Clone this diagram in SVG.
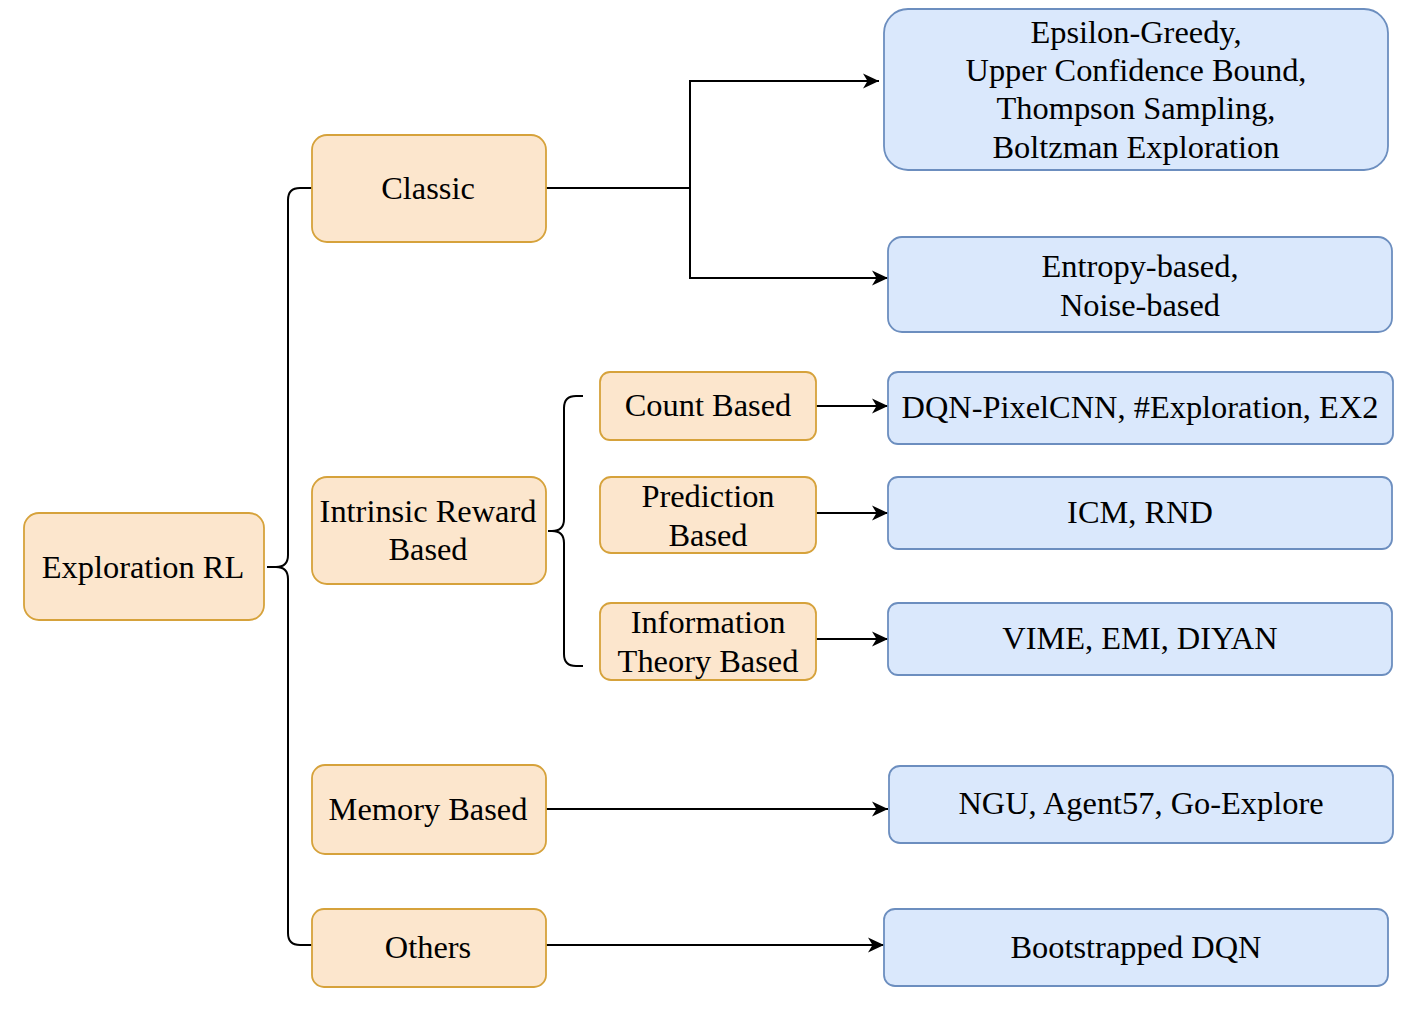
<svg xmlns="http://www.w3.org/2000/svg" width="1418" height="1022" viewBox="0 0 1418 1022">
<style>
.o{fill:#fce6cd;stroke:#d6a23b;stroke-width:1.8}
.b{fill:#dae8fc;stroke:#6c8ebf;stroke-width:1.8}
text{font-family:"Liberation Serif","Times New Roman",serif;font-size:32.4px;fill:#000;text-anchor:middle}
.c{fill:none;stroke:#000;stroke-width:2}
</style>
<defs>
<marker id="a" markerUnits="userSpaceOnUse" markerWidth="20" markerHeight="20" refX="16" refY="8" orient="auto" viewBox="0 0 20 16">
<path d="M16,8 L0,0.5 L4.5,8 L0,15.5 Z" fill="#000"/>
</marker>
</defs>
<rect width="1418" height="1022" fill="#fff"/>
<g id="connectors">
<path class="c" d="M312,188 H300 Q288,188 288,200 V555 Q288,567 276,567 H267 M276,567 Q288,567 288,579 V933 Q288,945 300,945 H312"/>
<path class="c" d="M583,396 H576 Q564,396 564,408 V519 Q564,531 552,531 H548 M552,531 Q564,531 564,543 V654 Q564,666 576,666 H583"/>
<path class="c" d="M546,188 H690"/>
<path class="c" d="M690,188 V81 H879" marker-end="url(#a)"/>
<path class="c" d="M690,188 V278 H888" marker-end="url(#a)"/>
<path class="c" d="M816,406 H888" marker-end="url(#a)"/>
<path class="c" d="M816,513 H888" marker-end="url(#a)"/>
<path class="c" d="M816,639 H888" marker-end="url(#a)"/>
<path class="c" d="M546,809 H888" marker-end="url(#a)"/>
<path class="c" d="M546,945 H884" marker-end="url(#a)"/>
</g>
<g id="n-root"><rect class="o" x="24" y="513" width="240" height="107" rx="15"/><text x="143" y="578">Exploration RL</text></g>
<g id="n-classic"><rect class="o" x="312" y="135" width="234" height="107" rx="15"/><text x="428" y="199">Classic</text></g>
<g id="n-intrinsic"><rect class="o" x="312" y="477" width="234" height="107" rx="15"/><text x="428" y="522">Intrinsic Reward</text><text x="428" y="560">Based</text></g>
<g id="n-memory"><rect class="o" x="312" y="765" width="234" height="89" rx="13"/><text x="428" y="820">Memory Based</text></g>
<g id="n-others"><rect class="o" x="312" y="909" width="234" height="78" rx="12"/><text x="428" y="958">Others</text></g>
<g id="n-count"><rect class="o" x="600" y="372" width="216" height="68" rx="10"/><text x="708" y="416">Count Based</text></g>
<g id="n-prediction"><rect class="o" x="600" y="477" width="216" height="76" rx="11"/><text x="708" y="507">Prediction</text><text x="708" y="546">Based</text></g>
<g id="n-info"><rect class="o" x="600" y="603" width="216" height="77" rx="11"/><text x="708" y="633">Information</text><text x="708" y="672">Theory Based</text></g>
<g id="n-eps"><rect class="b" x="884" y="9" width="504" height="161" rx="24"/><text x="1136" y="43">Epsilon-Greedy,</text><text x="1136" y="81">Upper Confidence Bound,</text><text x="1136" y="119">Thompson Sampling,</text><text x="1136" y="158">Boltzman Exploration</text></g>
<g id="n-entropy"><rect class="b" x="888" y="237" width="504" height="95" rx="14"/><text x="1140" y="277">Entropy-based,</text><text x="1140" y="316">Noise-based</text></g>
<g id="n-dqnpix"><rect class="b" x="888" y="372" width="505" height="72" rx="10"/><text x="1140" y="418">DQN-PixelCNN, #Exploration, EX2</text></g>
<g id="n-icm"><rect class="b" x="888" y="477" width="504" height="72" rx="10"/><text x="1140" y="523">ICM, RND</text></g>
<g id="n-vime"><rect class="b" x="888" y="603" width="504" height="72" rx="10"/><text x="1140" y="649">VIME, EMI, DIYAN</text></g>
<g id="n-ngu"><rect class="b" x="889" y="766" width="504" height="77" rx="11"/><text x="1141" y="814">NGU, Agent57, Go-Explore</text></g>
<g id="n-boot"><rect class="b" x="884" y="909" width="504" height="77" rx="11"/><text x="1136" y="958">Bootstrapped DQN</text></g>
</svg>
